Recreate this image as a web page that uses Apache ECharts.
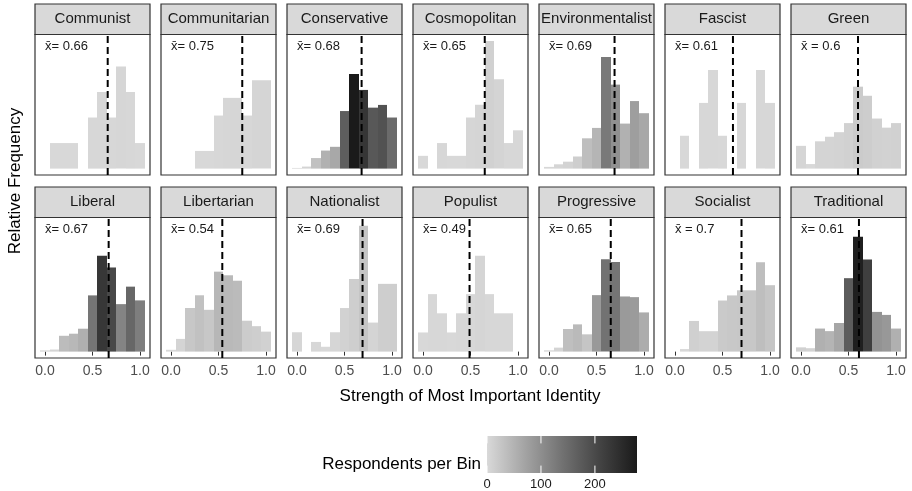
<!DOCTYPE html>
<html><head><meta charset="utf-8">
<script src="https://cdn.jsdelivr.net/npm/echarts@6/dist/echarts.min.js"></script>
<style>html,body{margin:0;padding:0;background:#fff}#c{width:912px;height:491px}</style>
</head><body><div id="c"></div>
<script>
// ---------- DATA ----------
const binCenters = [0.0,0.1,0.2,0.3,0.4,0.5,0.6,0.7,0.8,0.9,1.0];
const identities = ["Communist","Communitarian","Conservative","Cosmopolitan","Environmentalist","Fascist","Green",
                    "Liberal","Libertarian","Nationalist","Populist","Progressive","Socialist","Traditional"];
const countsCommunist        = [0,1,1,1,0,2,3,2,4,3,1];
const countsCommunitarian    = [0,0,0,1,1,3,4,4,3,5,5];
const countsConservative     = [2,6,31,53,64,169,278,231,179,187,150];
const countsCosmopolitan     = [1,0,2,1,1,4,5,10,7,2,3];
const countsEnvironmentalist = [2,5,8,14,35,47,129,97,52,78,64];
const countsFascist          = [0,1,0,2,3,1,0,2,0,3,2];
const countsGreen            = [5,1,6,7,8,10,18,16,11,9,10];
const countsLiberal          = [3,5,38,43,55,135,230,202,114,156,123];
const countsLibertarian      = [1,7,24,31,23,44,42,39,17,14,11];
const countsNationalist      = [4,0,2,1,4,9,15,26,6,14,14];
const countsPopulist         = [1,3,2,1,2,3,5,3,2,2,0];
const countsProgressive      = [2,6,34,41,26,85,139,135,83,82,59];
const countsSocialist        = [0,1,12,8,8,20,22,24,24,35,26];
const countsTraditional      = [10,8,54,48,67,172,269,216,93,86,54];
const means = [0.66,0.75,0.68,0.65,0.69,0.61,0.6,0.67,0.54,0.69,0.49,0.65,0.7,0.61];
const meanLabels = ["x̄= 0.66","x̄= 0.75","x̄= 0.68","x̄= 0.65","x̄= 0.69","x̄= 0.61","x̄ = 0.6",
                    "x̄= 0.67","x̄= 0.54","x̄= 0.69","x̄= 0.49","x̄= 0.65","x̄ = 0.7","x̄= 0.61"];
const xTicks = [0, 0.5, 1.0];
const legendTicks = [0, 100, 200];
const fillStops = ['#d9d9d9','#a4a4a4','#727272','#444444','#1a1a1a'];

// ---------- BUILD ----------
const allCounts = [countsCommunist,countsCommunitarian,countsConservative,countsCosmopolitan,countsEnvironmentalist,
  countsFascist,countsGreen,countsLiberal,countsLibertarian,countsNationalist,countsPopulist,countsProgressive,
  countsSocialist,countsTraditional];
const totals = allCounts.map(a => a.reduce((s,v)=>s+v,0));
const rel = allCounts.map((a,i)=>a.map(v=>v/totals[i]));
const yMax = Math.max(...rel.flat());
const maxCount = Math.max(...allCounts.flat());
const yAxMin = -0.05*yMax, yAxMax = 1.05*yMax;
const FONT = '"Liberation Sans", Arial, sans-serif';

const P_LEFT = 35, P_STEP = 126, P_W = 115, ROW_TOP = [34.5, 217.5], P_H = 140.5, STRIP_H = 30.5;

const grids=[], xAxes=[], yAxes=[], series=[], graphics=[];
identities.forEach((name,i)=>{
  const r = Math.floor(i/7), c = i%7;
  const left = P_LEFT + P_STEP*c, top = ROW_TOP[r];
  grids.push({left:left, top:top, width:P_W, height:P_H, show:true, borderColor:'#333', borderWidth:1.2, backgroundColor:'#fff'});
  xAxes.push({gridIndex:i, type:'value', min:-0.105, max:1.105,
    axisLine:{show:false}, splitLine:{show:false},
    axisTick:{show:r===1, length:4, customValues:xTicks, lineStyle:{color:'#333',width:1}},
    axisLabel:{show:r===1, customValues:xTicks, formatter:v=>v.toFixed(1), fontSize:14, color:'#4d4d4d', fontFamily:FONT, margin:6}});
  yAxes.push({gridIndex:i, type:'value', min:yAxMin, max:yAxMax, show:false});
  graphics.push({type:'rect', shape:{x:left, y:top-STRIP_H, width:P_W, height:STRIP_H},
    style:{fill:'#d9d9d9', stroke:'#333', lineWidth:1.2}, z:10});
  graphics.push({type:'text', x:left+P_W/2, y:top-STRIP_H/2, z:11,
    style:{text:name, fontSize:15, fontFamily:FONT, fill:'#1a1a1a', align:'center', verticalAlign:'middle'}});
});
// bar series
identities.forEach((name,i)=>{
  series.push({type:'custom', name:name, xAxisIndex:i, yAxisIndex:i,
    data: binCenters.map((b,k)=>[b, rel[i][k], allCounts[i][k]]),
    renderItem:(params,api)=>{
      const x=api.value(0), y=api.value(1);
      if(!(y>0)) return null;
      const p0=api.coord([x-0.05,0]), p1=api.coord([x+0.05,y]);
      const x0=Math.round(p0[0]), x1=Math.round(p1[0]);
      return {type:'rect', shape:{x:x0, y:p1[1], width:x1-x0, height:p0[1]-p1[1]},
              style:{fill:api.visual('color')}};
    }});
});
// mean lines + labels
identities.forEach((name,i)=>{
  series.push({type:'custom', xAxisIndex:i, yAxisIndex:i, z:5, silent:true,
    data:[[means[i]]],
    renderItem:(params,api)=>{
      const m=api.value(0);
      const a=api.coord([m,yAxMin]), b=api.coord([m,yAxMax]);
      const t=api.coord([0,yAxMax]);
      return {type:'group', children:[
        {type:'line', shape:{x1:a[0],y1:a[1],x2:b[0],y2:b[1]}, style:{stroke:'#000', lineWidth:2, lineDash:[7,4]}},
        {type:'text', x:t[0], y:t[1]+5, style:{text:meanLabels[i], fontSize:13, fontFamily:FONT, fill:'#1a1a1a', align:'left', verticalAlign:'top'}}
      ]};
    }});
});
// legend colorbar grid
const LG = identities.length;
grids.push({left:487, top:436, width:150, height:37, show:false});
xAxes.push({gridIndex:LG, type:'value', min:0, max:maxCount,
  axisLine:{show:false}, splitLine:{show:false}, axisTick:{show:false},
  axisLabel:{customValues:legendTicks, fontSize:13, color:'#1a1a1a', fontFamily:FONT, margin:5, hideOverlap:false}});
yAxes.push({gridIndex:LG, type:'value', min:0, max:1, show:false});
series.push({type:'custom', xAxisIndex:LG, yAxisIndex:LG, silent:true, data:[[0]],
  renderItem:(params,api)=>{
    const p0=api.coord([0,0]), p1=api.coord([maxCount,1]);
    const h=p0[1]-p1[1];
    const kids=[{type:'rect', shape:{x:p0[0],y:p1[1],width:p1[0]-p0[0],height:h},
      style:{fill:new echarts.graphic.LinearGradient(0,0,1,0, fillStops.map((c,k)=>({offset:k/(fillStops.length-1), color:c})))}}];
    legendTicks.forEach(v=>{
      const q=api.coord([v,0]);
      kids.push({type:'line', shape:{x1:q[0],y1:p1[1],x2:q[0],y2:p1[1]+h/5}, style:{stroke:'#fff',lineWidth:1}});
      kids.push({type:'line', shape:{x1:q[0],y1:p0[1]-h/5,x2:q[0],y2:p0[1]}, style:{stroke:'#fff',lineWidth:1}});
    });
    return {type:'group', children:kids};
  }});
// titles
graphics.push({type:'text', x:470, y:396, style:{text:'Strength of Most Important Identity', fontSize:17, fontFamily:FONT, fill:'#000', align:'center', verticalAlign:'middle'}});
graphics.push({type:'text', x:15, y:181, rotation:Math.PI/2, style:{text:'Relative Frequency', fontSize:17, fontFamily:FONT, fill:'#000', align:'center', verticalAlign:'middle'}});
graphics.push({type:'text', x:481, y:464, style:{text:'Respondents per Bin', fontSize:17, fontFamily:FONT, fill:'#000', align:'right', verticalAlign:'middle'}});

const chart = echarts.init(document.getElementById('c'), null, {renderer:'canvas'});
chart.setOption({
  animation:false, backgroundColor:'#fff',
  grid:grids, xAxis:xAxes, yAxis:yAxes,
  visualMap:{type:'continuous', show:false, min:0, max:maxCount, dimension:2,
    seriesIndex: identities.map((_,i)=>i), inRange:{color:fillStops}},
  series:series, graphic:graphics
});
</script></body></html>
